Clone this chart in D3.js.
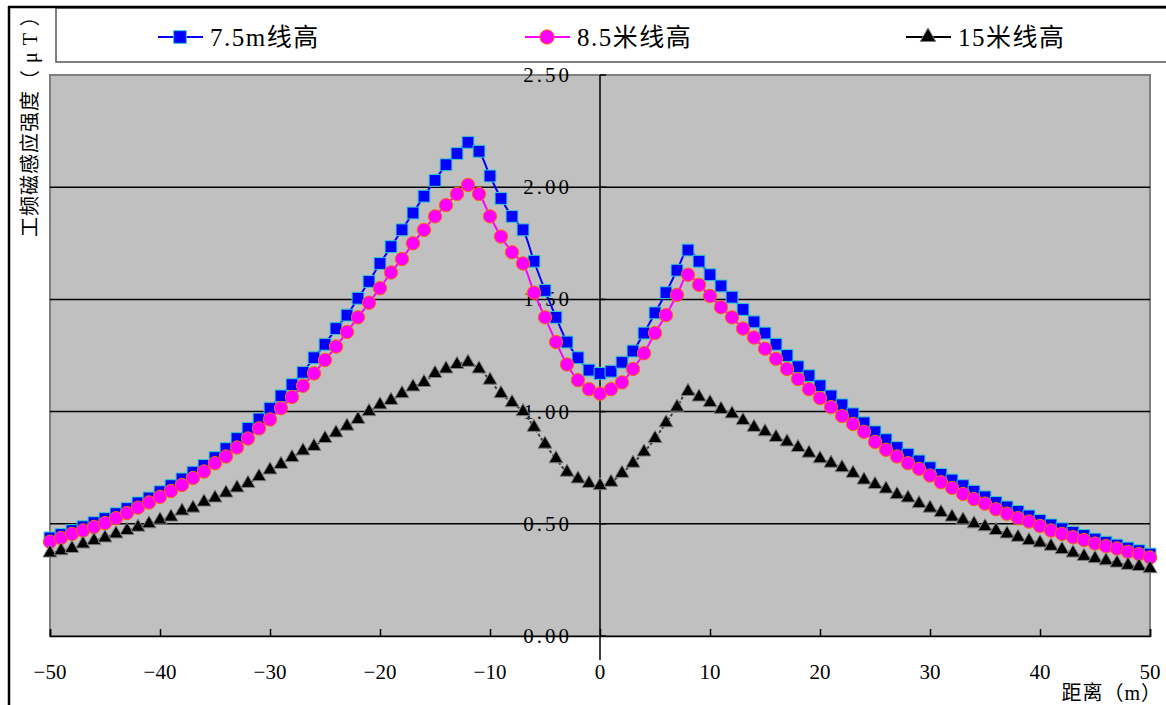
<!DOCTYPE html>
<html>
<head>
<meta charset="utf-8">
<script src="https://cdn.jsdelivr.net/npm/d3@7"></script>
<style>
  body { margin: 0; background: #fff; }
  svg text { font-family: "Liberation Serif", "Noto Sans CJK SC", serif; fill: #000; }
</style>
</head>
<body>
<svg id="chart"></svg>
<script>
const distances = [-50,-49,-48,-47,-46,-45,-44,-43,-42,-41,-40,-39,-38,-37,-36,-35,-34,-33,-32,-31,
  -30,-29,-28,-27,-26,-25,-24,-23,-22,-21,-20,-19,-18,-17,-16,-15,-14,-13,-12,-11,
  -10,-9,-8,-7,-6,-5,-4,-3,-2,-1,0,1,2,3,4,5,6,7,8,9,10,11,12,13,14,15,16,17,18,19,20,
  21,22,23,24,25,26,27,28,29,30,31,32,33,34,35,36,37,38,39,40,41,42,43,44,45,46,47,48,49,50];

const h75 = [0.437,0.452,0.470,0.487,0.505,0.523,0.545,0.568,0.593,0.615,
  0.643,0.670,0.700,0.730,0.760,0.795,0.835,0.880,0.925,0.967,
  1.015,1.070,1.120,1.175,1.240,1.300,1.370,1.430,1.505,1.580,
  1.660,1.735,1.810,1.885,1.960,2.030,2.100,2.150,2.200,2.160,
  2.050,1.950,1.870,1.810,1.670,1.540,1.420,1.310,1.240,1.185,
  1.170,
  1.180,1.220,1.270,1.350,1.440,1.530,1.630,1.720,1.670,1.610,
  1.560,1.510,1.455,1.400,1.350,1.300,1.250,1.200,1.160,1.115,
  1.070,1.030,0.990,0.950,0.910,0.875,0.840,0.810,0.780,0.750,
  0.720,0.695,0.670,0.645,0.620,0.595,0.575,0.555,0.535,0.515,
  0.495,0.478,0.462,0.448,0.432,0.418,0.405,0.392,0.380,0.365];

const h85 = [0.420,0.437,0.455,0.470,0.486,0.503,0.525,0.548,0.572,0.595,
  0.620,0.646,0.673,0.704,0.733,0.770,0.800,0.840,0.880,0.925,
  0.965,1.015,1.065,1.115,1.170,1.230,1.290,1.355,1.420,1.485,
  1.550,1.620,1.680,1.750,1.810,1.870,1.920,1.970,2.010,1.970,
  1.870,1.780,1.710,1.660,1.530,1.420,1.310,1.210,1.140,1.100,
  1.080,
  1.100,1.130,1.190,1.260,1.350,1.430,1.520,1.610,1.565,1.515,
  1.465,1.420,1.370,1.330,1.280,1.235,1.190,1.145,1.100,1.060,
  1.020,0.980,0.945,0.910,0.865,0.830,0.800,0.770,0.745,0.715,
  0.685,0.660,0.633,0.610,0.590,0.565,0.545,0.525,0.510,0.490,
  0.470,0.455,0.440,0.428,0.412,0.400,0.390,0.375,0.365,0.350];

const h15 = [0.370,0.380,0.390,0.410,0.425,0.437,0.455,0.470,0.485,0.500,
  0.517,0.530,0.557,0.570,0.597,0.615,0.637,0.660,0.680,0.710,
  0.740,0.765,0.795,0.825,0.845,0.880,0.905,0.935,0.965,1.000,
  1.030,1.050,1.080,1.110,1.130,1.170,1.190,1.210,1.220,1.190,
  1.140,1.080,1.040,1.000,0.930,0.855,0.790,0.730,0.700,0.680,
  0.670,
  0.685,0.725,0.770,0.820,0.880,0.950,1.020,1.090,1.065,1.040,
  1.010,0.990,0.960,0.930,0.910,0.885,0.865,0.840,0.815,0.790,
  0.770,0.750,0.725,0.695,0.675,0.655,0.630,0.615,0.590,0.570,
  0.550,0.530,0.517,0.500,0.487,0.470,0.455,0.440,0.425,0.415,
  0.400,0.385,0.370,0.355,0.345,0.335,0.325,0.315,0.310,0.300];

const seriesNames = ["7.5m线高", "8.5米线高", "15米线高"];
const xTicks = [-50,-40,-30,-20,-10,0,10,20,30,40,50];
const yTicks = [0, 0.5, 1.0, 1.5, 2.0, 2.5];

const width = 1166, height = 705;
const plot = { left: 50, right: 1150, top: 75, bottom: 636 };

const svg = d3.select("#chart").attr("width", width).attr("height", height);

const x = d3.scaleLinear().domain([-50, 50]).range([plot.left, plot.right]);
const y = d3.scaleLinear().domain([0, 2.5]).range([plot.bottom, plot.top]);

// outer frame lines
svg.append("line").attr("x1", 9).attr("x2", 9).attr("y1", 6).attr("y2", height)
  .attr("stroke", "#000").attr("stroke-width", 2.5);

// plot background
svg.append("rect")
  .attr("x", plot.left).attr("y", plot.top)
  .attr("width", plot.right - plot.left).attr("height", plot.bottom - plot.top)
  .attr("fill", "#c0c0c0").attr("stroke", "#808080").attr("stroke-width", 2);

// horizontal gridlines
svg.append("g").selectAll("line")
  .data(yTicks.filter(d => d > 0 && d < 2.5))
  .join("line")
  .attr("x1", plot.left).attr("x2", plot.right)
  .attr("y1", d => y(d)).attr("y2", d => y(d))
  .attr("stroke", "#000").attr("stroke-width", 1.5);

// x axis at y = 0
svg.append("g")
  .attr("transform", `translate(0,${plot.bottom})`)
  .call(d3.axisTop(x).tickValues(xTicks).tickSize(7).tickFormat(""))
  .call(g => g.selectAll("line,path").attr("stroke", "#000").attr("stroke-width", 1.5));

svg.append("g").selectAll("text")
  .data(xTicks)
  .join("text")
  .attr("x", d => x(d)).attr("y", 679)
  .attr("text-anchor", "middle")
  .style("font-size", "21px")
  .text(d => d < 0 ? "\u2212" + Math.abs(d) : d);

// y axis at x = 0
svg.append("line")
  .attr("x1", x(0)).attr("x2", x(0)).attr("y1", plot.top).attr("y2", plot.bottom + 24)
  .attr("stroke", "#000").attr("stroke-width", 1.5);
svg.append("g").selectAll("line")
  .data(yTicks)
  .join("line")
  .attr("x1", x(0)).attr("x2", x(0) + 6)
  .attr("y1", d => y(d)).attr("y2", d => y(d))
  .attr("stroke", "#000").attr("stroke-width", 1.5);

svg.append("g").selectAll("text")
  .data(yTicks)
  .join("text")
  .attr("x", x(0) - 28).attr("y", d => y(d) + 7)
  .attr("text-anchor", "end")
  .style("font-size", "21px")
  .style("letter-spacing", "3px")
  .text(d => d3.format(".2f")(d));

// series
const series = [
  { name: seriesNames[0], values: h75, line: "#0000ff", fill: "#0000ff", stroke: "#33cccc", symbol: d3.symbolSquare, size: 140, dash: null },
  { name: seriesNames[1], values: h85, line: "#ff00ff", fill: "#ff00ff", stroke: "#ff6600", symbol: d3.symbolCircle, size: 140, dash: null },
  { name: seriesNames[2], values: h15, line: "#404040", fill: "#000000", stroke: "#808080", symbol: d3.symbolTriangle, size: 85, dash: "3,2" }
];

const lineGen = d3.line()
  .x((d, i) => x(distances[i]))
  .y(d => y(d))
  .curve(d3.curveCatmullRom);

series.forEach(s => {
  svg.append("path")
    .attr("d", lineGen(s.values))
    .attr("fill", "none")
    .attr("stroke", s.line)
    .attr("stroke-width", 2)
    .attr("stroke-dasharray", s.dash);
  svg.append("g").selectAll("path")
    .data(s.values)
    .join("path")
    .attr("transform", (d, i) => `translate(${x(distances[i])},${y(d)})`)
    .attr("d", d3.symbol().type(s.symbol).size(s.size))
    .attr("fill", s.fill)
    .attr("stroke", s.stroke)
    .attr("stroke-width", 1);
});

// legend box
svg.append("rect")
  .attr("x", 56).attr("y", 8).attr("width", width).attr("height", 54)
  .attr("fill", "#fff").attr("stroke", "#555").attr("stroke-width", 1.5);
svg.append("line").attr("x1", 8).attr("x2", width).attr("y1", 7).attr("y2", 7)
  .attr("stroke", "#000").attr("stroke-width", 2.5);

const legendX = [180, 547, 928];
series.forEach((s, i) => {
  const g = svg.append("g").attr("transform", `translate(${legendX[i]},37)`);
  g.append("line").attr("x1", -22).attr("x2", 23).attr("y1", 0).attr("y2", 0)
    .attr("stroke", s.dash ? "#000" : s.line).attr("stroke-width", 2);
  g.append("path")
    .attr("d", d3.symbol().type(s.symbol).size(s.size + 20))
    .attr("fill", s.fill).attr("stroke", s.stroke).attr("stroke-width", 1);
  g.append("text")
    .attr("x", 30).attr("y", 9)
    .style("font-size", "25px")
    .style("letter-spacing", "1.5px")
    .text(s.name);
});

// axis titles
svg.append("text")
  .attr("transform", "translate(37,237) rotate(-90)")
  .attr("text-anchor", "start")
  .style("font-size", "20px")
  .style("letter-spacing", "1px")
  .text("工频磁感应强度（ μ T ）");

svg.append("text")
  .attr("x", 1162).attr("y", 700)
  .attr("text-anchor", "end")
  .style("font-size", "20px")
  .style("letter-spacing", "1px")
  .text("距离（m）");
</script>
</body>
</html>
